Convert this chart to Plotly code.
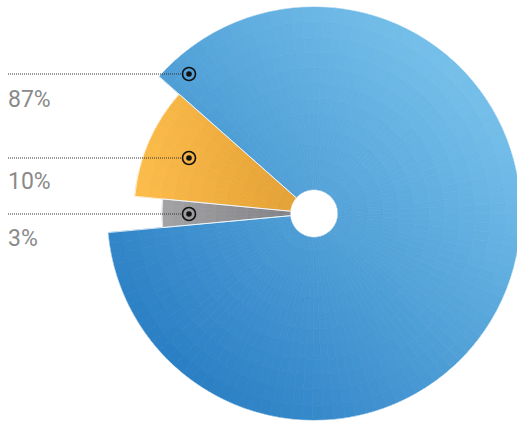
import math
import plotly.graph_objects as go

W, H = 524, 421

# ---- data ----
slice_names = ["10%", "3%", "87%"]
shares = [10, 3, 87]            # percent of the whole
radii = [85.3, 70.0, 100]       # relative radius of each slice
label_text = ["87%", "10%", "3%"]

# ---- style ----
# gradient endpoints per slice: (start colour, end colour, gradient direction in degrees)
grad = [
    ("#fdbd4b", "#e09d33", 0),     # orange: light left -> darker right
    ("#a3a3a6", "#7c7c80", 0),     # gray
    ("#2a7fc4", "#76c0ea", 45),    # blue: dark bottom-left -> light top-right
]
rotation = 138.5
cx, cy, R = 314, 213.5, 207   # page pixels
hole_px = 23.5


def hex2rgb(h):
    h = h.lstrip("#")
    return tuple(int(h[i:i + 2], 16) for i in (0, 2, 4))


def mix(c0, c1, t):
    t = max(0.0, min(1.0, t))
    a, b = hex2rgb(c0), hex2rgb(c1)
    return "rgb(%d,%d,%d)" % tuple(round(a[i] + (b[i] - a[i]) * t) for i in range(3))


widths = [s * 3.6 for s in shares]
starts = []
acc = 0
for w in widths:
    starts.append(acc)
    acc += w

cell_r, cell_t, cell_w, cell_base, cell_c = [], [], [], [], []
for i in range(len(shares)):
    c0, c1, gdir = grad[i]
    n_t = max(4, int(widths[i] / 3))
    n_r = 12
    dth = widths[i] / n_t
    dr = radii[i] / n_r
    g = math.radians(gdir)
    rp = hole_px + (R - hole_px) * radii[i] / 100
    if gdir == 0:
        pmin, pmax = -rp, 0
    else:
        pmin, pmax = -R, R
    for a in range(n_t):
        th = starts[i] + (a + 0.5) * dth
        for b in range(n_r):
            base = b * dr
            rmid = hole_px + (R - hole_px) * (base + dr / 2) / 100
            ang = math.radians(rotation + th)
            x, y = rmid * math.cos(ang), rmid * math.sin(ang)
            p = x * math.cos(g) + y * math.sin(g)
            t = (p - pmin) / (pmax - pmin)
            col = mix(c0, c1, t)
            cell_r.append(dr)
            cell_t.append(th)
            cell_w.append(dth)
            cell_base.append(base)
            cell_c.append(col)

fig = go.Figure()
fig.add_trace(go.Barpolar(
    r=cell_r, theta=cell_t, width=cell_w, base=cell_base,
    marker=dict(color=cell_c, line=dict(color=cell_c, width=0.7)),
    hoverinfo="skip", showlegend=False,
))
# thin light separators between slices
fig.add_trace(go.Barpolar(
    r=radii, theta=[s + w / 2 for s, w in zip(starts, widths)], width=widths,
    marker=dict(color="rgba(0,0,0,0)", line=dict(color="rgba(255,255,255,0.7)", width=1)),
    hoverinfo="skip", showlegend=False,
))

fig.update_layout(
    width=W, height=H,
    margin=dict(l=0, r=0, t=0, b=0),
    paper_bgcolor="white",
    plot_bgcolor="white",
    polar=dict(
        domain=dict(x=[(cx - R) / W, min(1.0, (cx + R) / W)],
                    y=[max(0.0, (H - cy - R) / H), min(1.0, (H - cy + R) / H)]),
        hole=hole_px / R,
        bgcolor="white",
        radialaxis=dict(visible=False, range=[0, 100]),
        angularaxis=dict(visible=False, rotation=rotation, direction="counterclockwise"),
    ),
)

# leader lines, markers and labels (page pixels)
line_y = [74, 158, 214]
text_y = [99, 181, 238]
mx = 189
for ly, ty, t in zip(line_y, text_y, label_text):
    yp = 1 - ly / H
    fig.add_shape(type="line", xref="paper", yref="paper",
                  x0=8 / W, x1=(mx - 7) / W, y0=yp, y1=yp,
                  line=dict(color="#333", width=1, dash="1px,1px"))
    fig.add_shape(type="circle", xref="paper", yref="paper",
                  xsizemode="pixel", ysizemode="pixel",
                  xanchor=mx / W, yanchor=yp,
                  x0=-6.5, x1=6.5, y0=-6.5, y1=6.5,
                  line=dict(color="#111", width=1.6))
    fig.add_shape(type="circle", xref="paper", yref="paper",
                  xsizemode="pixel", ysizemode="pixel",
                  xanchor=mx / W, yanchor=yp,
                  x0=-2.8, x1=2.8, y0=-2.8, y1=2.8,
                  fillcolor="#111", line=dict(width=0))
    fig.add_annotation(text=t, xref="paper", yref="paper",
                       x=6 / W, y=1 - ty / H, xanchor="left", yanchor="middle",
                       showarrow=False,
                       font=dict(family="Roboto", size=23, color="#8a8a8a"))

fig.write_html(
    "out.html",
    config={"displayModeBar": False},
    post_script="document.body.style.margin='0';"
                "document.documentElement.style.overflow='hidden';"
                "document.body.style.overflow='hidden';",
)
